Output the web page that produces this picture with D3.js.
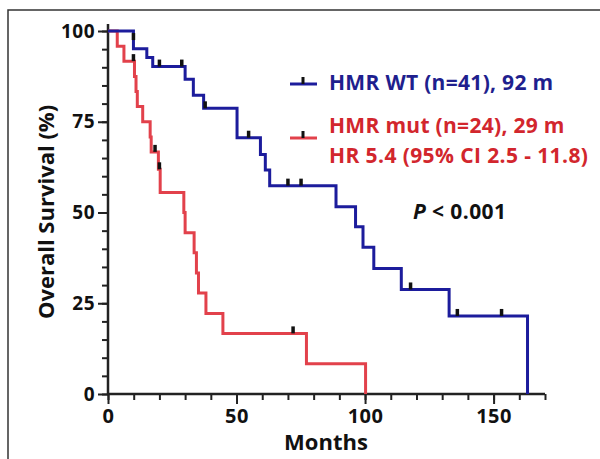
<!DOCTYPE html>
<html>

<head>
    <meta charset="utf-8">
    <script src="https://d3js.org/d3.v7.min.js"></script>
    <style>
        body { margin: 0; background: #fff; }
        svg text { font-family: "Open Sans", sans-serif; font-weight: 700; }
    </style>
</head>

<body>
    <div id="chart"></div>
    <script>
        // Kaplan-Meier steps (months, % surviving)
        const wtTimes = [0, 9.9, 15.1, 17.4, 30.0, 33.2, 37.2, 50.2, 59.3, 61.2, 62.9, 88.7, 96.3, 99.2, 103.4, 114.1, 132.7, 163.2];
        const wtSurv = [100, 95.1, 92.7, 90.2, 86.7, 82.3, 78.7, 70.6, 66.0, 61.7, 57.4, 51.6, 46.1, 40.4, 34.6, 28.8, 21.5, 0];
        const wtCensorTimes = [9.9, 20.0, 28.7, 37.8, 54.7, 70.0, 75.1, 117.7, 135.9, 153.1];
        const wtCensorSurv = [97.5, 90.2, 90.2, 78.7, 70.6, 57.4, 57.4, 28.8, 21.5, 21.5];

        const mutTimes = [0, 3.6, 6.2, 10.3, 10.9, 11.4, 13.5, 16.4, 16.8, 19.6, 20.3, 29.5, 30.0, 33.5, 34.4, 35.2, 38.1, 44.7, 77.2, 100.2];
        const mutSurv = [100, 95.8, 91.7, 87.5, 83.3, 79.2, 75.0, 70.8, 66.7, 61.9, 55.5, 50.0, 44.4, 38.9, 33.3, 27.8, 22.2, 16.7, 8.3, 0];
        const mutCensorTimes = [9.9, 18.3, 20.0, 72.0];
        const mutCensorSurv = [91.7, 66.7, 61.9, 16.7];

        const xTicks = [0, 50, 100, 150];
        const yTicks = [0, 25, 50, 75, 100];
        const legendLabels = ["HMR WT (n=41), 92 m", "HMR mut (n=24), 29 m", "HR 5.4 (95% CI 2.5 - 11.8)"];

        const blueLine = "#1c1c9c", redLine = "#e2414b";
        const blueText = "#1f1f8e", redText = "#d2262d";

        const width = 600, height = 459;
        const svg = d3.select("#chart").append("svg")
            .attr("width", width).attr("height", height);

        svg.append("rect").attr("width", width).attr("height", height).attr("fill", "#fff");

        // picture frame (top and left edges only)
        svg.append("path")
            .attr("d", "M8,459V10H600")
            .attr("fill", "none").attr("stroke", "#333").attr("stroke-width", 1.5);

        const x = d3.scaleLinear().domain([0, 170]).range([108, 545]);
        const y = d3.scaleLinear().domain([0, 100]).range([394, 31]);

        // y axis: minor ticks every 5, major every 25
        svg.append("g").attr("transform", "translate(108,0)")
            .call(d3.axisLeft(y).tickValues(d3.range(0, 101, 5)).tickSize(6).tickFormat(""))
            .call(g => g.select(".domain").remove())
            .call(g => g.selectAll("line").attr("stroke", "#222").attr("stroke-width", 2));
        svg.append("g").attr("transform", "translate(108,0)")
            .call(d3.axisLeft(y).tickValues(yTicks).tickSize(10).tickPadding(3))
            .call(g => g.select(".domain").remove())
            .call(g => g.selectAll("line").attr("stroke", "#222").attr("stroke-width", 2))
            .call(g => g.selectAll("text").attr("fill", "#111").style("font-size", "19px").style("letter-spacing", "0.5px"));

        // x axis: minor ticks every 10, major every 50
        svg.append("g").attr("transform", "translate(0,394)")
            .call(d3.axisBottom(x).tickValues(d3.range(0, 171, 10)).tickSize(6).tickFormat(""))
            .call(g => g.select(".domain").remove())
            .call(g => g.selectAll("line").attr("stroke", "#222").attr("stroke-width", 2));
        svg.append("g").attr("transform", "translate(0,394)")
            .call(d3.axisBottom(x).tickValues(xTicks).tickSize(10).tickPadding(5))
            .call(g => g.select(".domain").remove())
            .call(g => g.selectAll("line").attr("stroke", "#222").attr("stroke-width", 2))
            .call(g => g.selectAll("text").attr("fill", "#111").style("font-size", "20px").style("letter-spacing", "0.5px"));

        // axis lines
        svg.append("line").attr("x1", 108).attr("x2", 108).attr("y1", 24).attr("y2", 395)
            .attr("stroke", "#222").attr("stroke-width", 2.5);
        svg.append("line").attr("x1", 107).attr("x2", x(170)).attr("y1", 394).attr("y2", 394)
            .attr("stroke", "#222").attr("stroke-width", 2.5);

        // survival curves
        const step = d3.line().curve(d3.curveStepAfter)
            .x(d => x(d[0])).y(d => y(d[1]));

        svg.append("path")
            .attr("d", step(d3.zip(mutTimes, mutSurv)))
            .attr("fill", "none").attr("stroke", redLine).attr("stroke-width", 3);
        svg.append("path")
            .attr("d", step(d3.zip(wtTimes, wtSurv)))
            .attr("fill", "none").attr("stroke", blueLine).attr("stroke-width", 3);

        // censor marks
        const censors = d3.zip(wtCensorTimes, wtCensorSurv).concat(d3.zip(mutCensorTimes, mutCensorSurv));
        svg.selectAll(".censor").data(censors).join("line")
            .attr("class", "censor")
            .attr("x1", d => x(d[0])).attr("x2", d => x(d[0]))
            .attr("y1", d => y(d[1])).attr("y2", d => y(d[1]) - 7)
            .attr("stroke", "#111").attr("stroke-width", 3.5);

        // legend
        const legend = [
            { label: legendLabels[0], line: blueLine, color: blueText, ly: 84, ty: 90 },
            { label: legendLabels[1], line: redLine, color: redText, ly: 138, ty: 133 }
        ];
        legend.forEach(d => {
            svg.append("line").attr("x1", 290).attr("x2", 317).attr("y1", d.ly).attr("y2", d.ly)
                .attr("stroke", d.line).attr("stroke-width", 3);
            svg.append("line").attr("x1", 303).attr("x2", 303).attr("y1", d.ly).attr("y2", d.ly - 7)
                .attr("stroke", "#111").attr("stroke-width", 3);
            svg.append("text").attr("x", 329).attr("y", d.ty)
                .attr("fill", d.color).style("font-size", "21px").style("letter-spacing", "0.3px")
                .text(d.label);
        });
        svg.append("text").attr("x", 329).attr("y", 163)
            .attr("fill", redText).style("font-size", "21px").style("letter-spacing", "0.4px")
            .text(legendLabels[2]);

        const pText = svg.append("text").attr("x", 413).attr("y", 219)
            .attr("fill", "#111").style("font-size", "21px").style("letter-spacing", "0.4px");
        pText.append("tspan").style("font-style", "italic").text("P");
        pText.append("tspan").text(" < 0.001");

        // axis titles
        svg.append("text")
            .attr("transform", "translate(54,212) rotate(-90)")
            .attr("text-anchor", "middle")
            .attr("fill", "#111").style("font-size", "22px")
            .text("Overall Survival (%)");
        svg.append("text")
            .attr("x", 326).attr("y", 450)
            .attr("text-anchor", "middle")
            .attr("fill", "#111").style("font-size", "22px")
            .text("Months");
    </script>
</body>

</html>
